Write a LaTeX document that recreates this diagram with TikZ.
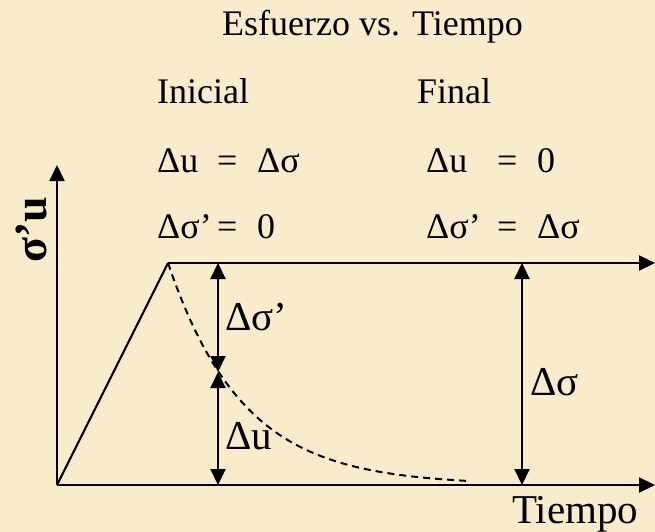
\documentclass[tikz,border=0pt]{standalone}
\usepackage{fontspec}
\setmainfont{Liberation Serif}
\usetikzlibrary{arrows.meta}
\definecolor{parch}{RGB}{249,236,204}
\tikzset{
  ln/.style={line width=2.2pt, black},
  tipped/.style={ln, -{Triangle[width=15pt,length=16pt]}},
  dbl/.style={ln, {Triangle[width=15pt,length=16pt]}-{Triangle[width=15pt,length=16pt]}},
  dsh/.style={line width=2pt, dash pattern=on 7pt off 5pt},
  txt/.style={inner sep=0pt, anchor=base west, font=\fontsize{36}{40}\selectfont},
  big/.style={inner sep=0pt, anchor=base west, font=\fontsize{41}{44}\selectfont},
}
\begin{document}
\begin{tikzpicture}[x=1pt,y=-1pt]
\useasboundingbox (0,0) rectangle (655,532);
\fill[parch] (0,0) rectangle (655,532);
% coordinates
\coordinate (O) at (57,485);
\coordinate (Y) at (57,165);
\coordinate (X) at (655,485);
\coordinate (P) at (168,263);
\coordinate (Q) at (655,263);
\coordinate (M) at (218,372);
\coordinate (B1) at (218,263);
\coordinate (B2) at (218,485);
\coordinate (R1) at (522,263);
\coordinate (R2) at (522,485);
% axes
\draw[tipped] (O) -- (Y);
\draw[tipped] (O) -- (X);
\draw[ln] (O) -- (P);
\draw[tipped] (P) -- (Q);
\draw[dsh] plot[domain=168:470, samples=80] ({\x},{485-222*exp(-(\x-168)/75)});
\draw[dbl] (B1) -- (M);
\draw[dbl] (M) -- (B2);
\draw[dbl] (R1) -- (R2);
% texts
\node[txt] (title) at (222,36) {Esfuerzo vs. Tiempo};
\node[txt] (ini) at (157,103) {Inicial};
\node[txt] (fin) at (417,103) {Final};
\node[txt] (a1) at (157,172) {Δu};
\node[txt] (a2) at (217,172) {=};
\node[txt] (a3) at (257,172) {Δσ};
\node[txt] (b1) at (157,238) {Δσ’};
\node[txt] (b2) at (217,238) {=};
\node[txt] (b3) at (257,238) {0};
\node[txt] (c1) at (426,172) {Δu};
\node[txt] (c2) at (497,172) {=};
\node[txt] (c3) at (537,172) {0};
\node[txt] (d1) at (426,238) {Δσ’};
\node[txt] (d2) at (497,238) {=};
\node[txt] (d3) at (537,238) {Δσ};
\node[big] (ls) at (225,330) {Δσ’};
\node[big] (lu) at (225,449) {Δu};
\node[big] (lr) at (530,395) {Δσ};
\node[big] (tm) at (512,523) {Tiempo};
\node[inner sep=0pt, anchor=base west, rotate=90, font=\fontsize{46}{50}\selectfont\bfseries] (yl) at (46,263) {σ’u};
\end{tikzpicture}
\end{document}
